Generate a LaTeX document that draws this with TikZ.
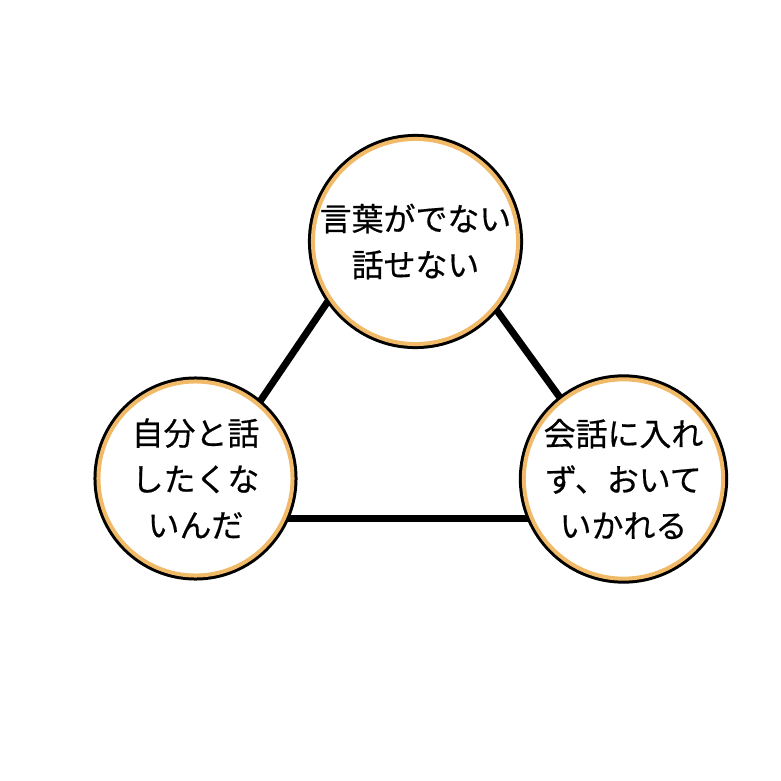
\documentclass[tikz,border=0pt]{standalone}
\usepackage{fontspec}
\newfontfamily\jpfont[FakeBold=0.5]{Noto Sans CJK JP}
\usepackage{tikz}
\usetikzlibrary{backgrounds}
\definecolor{ringorange}{RGB}{240,186,104}

\begin{document}
\begin{tikzpicture}[
  x=0.025cm, y=-0.025cm,
  bubble/.style={circle, draw=ringorange, line width=0.1cm, fill=white,
                 preaction={draw=black, line width=0.25cm},
                 minimum size=4.85cm, inner sep=0pt, align=center,
                 font=\jpfont\fontsize{22.7pt}{32.7pt}\selectfont},
  link/.style={line width=0.175cm, black}
]
\useasboundingbox (0,0) rectangle (781,781);
\node[bubble, minimum size=5.125cm] (nowords)  at (415.5,241.5) {言葉がでない\\話せない};
\node[bubble]                       (selftalk) at (195.5,478.5) {自分と話\\したくな\\いんだ};
\node[bubble]                       (leftout)  at (623.5,479)   {会話に入れ\\ず、おいて\\いかれる};
\begin{scope}[on background layer]
\draw[link] (nowords.214)  -- (selftalk.50);
\draw[link] (nowords.320)  -- (leftout.128);
\draw[link] (selftalk.336) -- (selftalk.336 -| leftout.center);
\end{scope}
\end{tikzpicture}
\end{document}
